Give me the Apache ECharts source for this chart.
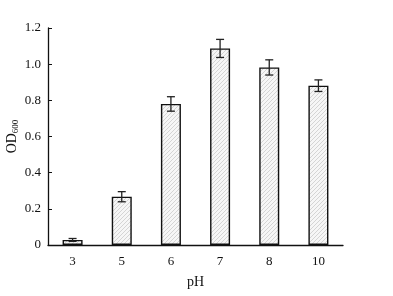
<!DOCTYPE html>
<html>
<head>
<meta charset="utf-8">
<script src="https://cdn.jsdelivr.net/npm/echarts@6/dist/echarts.min.js"></script>
<style>
  html, body { margin: 0; padding: 0; background: #fff; }
  #main { width: 393px; height: 296px; }
</style>
</head>
<body>
<div id="main"></div>
<script>
// data
let categories = ["3", "5", "6", "7", "8", "10"];
let od600 = [0.028, 0.267, 0.78, 1.087, 0.982, 0.881];
let errors = [0.008, 0.028, 0.04, 0.05, 0.042, 0.032];

// light diagonal hatch for the bars
function makeHatch() {
    let c = document.createElement("canvas");
    c.width = 4;
    c.height = 4;
    let ctx = c.getContext("2d");
    ctx.fillStyle = "#f6f6f6";
    ctx.fillRect(0, 0, 4, 4);
    ctx.strokeStyle = "#c6c6c6";
    ctx.lineWidth = 0.7;
    ctx.beginPath();
    ctx.moveTo(0, 4);
    ctx.lineTo(4, 0);
    ctx.moveTo(-1, 1);
    ctx.lineTo(1, -1);
    ctx.moveTo(3, 5);
    ctx.lineTo(5, 3);
    ctx.stroke();
    return c;
}

let dom = document.getElementById("main");
let myChart = echarts.init(dom, null, { renderer: "canvas" });

let font = "'Liberation Serif', 'DejaVu Serif', serif";

let option = {
    animation: false,
    textStyle: { fontFamily: font },
    grid: { left: 48, right: 50, top: 28, bottom: 51, outerBoundsMode: "none" },
    xAxis: {
        type: "category",
        data: categories,
        name: "pH",
        nameLocation: "middle",
        nameGap: 30,
        nameMoveOverlap: false,
        nameTextStyle: { color: "#111", fontSize: 14, fontFamily: font },
        axisLine: { lineStyle: { color: "#111", width: 1.3 } },
        axisTick: { show: false },
        axisLabel: { color: "#111", fontSize: 13, fontFamily: font, margin: 10 },
    },
    yAxis: {
        type: "value",
        min: 0,
        max: 1.2,
        interval: 0.2,
        name: "{a|OD}{b|600}",
        nameLocation: "middle",
        nameGap: 28,
        nameMoveOverlap: false,
        nameTextStyle: {
            rich: {
                a: { fontSize: 14, color: "#111", fontFamily: font },
                b: { fontSize: 9, color: "#111", fontFamily: font, verticalAlign: "bottom", padding: [7, 0, 0, 0] },
            },
        },
        splitLine: { show: false },
        axisLine: { show: true, lineStyle: { color: "#111", width: 1.3 } },
        axisTick: { show: true, inside: true, length: 4, lineStyle: { color: "#111" } },
        axisLabel: {
            color: "#111",
            fontSize: 13,
            fontFamily: font,
            margin: 7,
            formatter: function (v) {
                return v === 0 ? "0" : v.toFixed(1);
            },
        },
    },
    series: [
        {
            type: "bar",
            data: od600,
            barWidth: 20,
            itemStyle: {
                color: { image: makeHatch(), repeat: "repeat" },
                borderColor: "#111",
                borderWidth: 1.4,
            },
        },
        {
            type: "custom",
            data: od600.map(function (v, i) {
                return [i, v - errors[i], v + errors[i]];
            }),
            renderItem: function (params, api) {
                let lo = api.coord([api.value(0), api.value(1)]);
                let hi = api.coord([api.value(0), api.value(2)]);
                let cap = 4;
                let style = { stroke: "#222", lineWidth: 1.3 };
                return {
                    type: "group",
                    children: [
                        { type: "line", shape: { x1: hi[0], y1: hi[1], x2: lo[0], y2: lo[1] }, style: style },
                        { type: "line", shape: { x1: hi[0] - cap, y1: hi[1], x2: hi[0] + cap, y2: hi[1] }, style: style },
                        { type: "line", shape: { x1: lo[0] - cap, y1: lo[1], x2: lo[0] + cap, y2: lo[1] }, style: style },
                    ],
                };
            },
            z: 5,
        },
    ],
};

myChart.setOption(option);
window.addEventListener("resize", myChart.resize);
</script>
</body>
</html>
